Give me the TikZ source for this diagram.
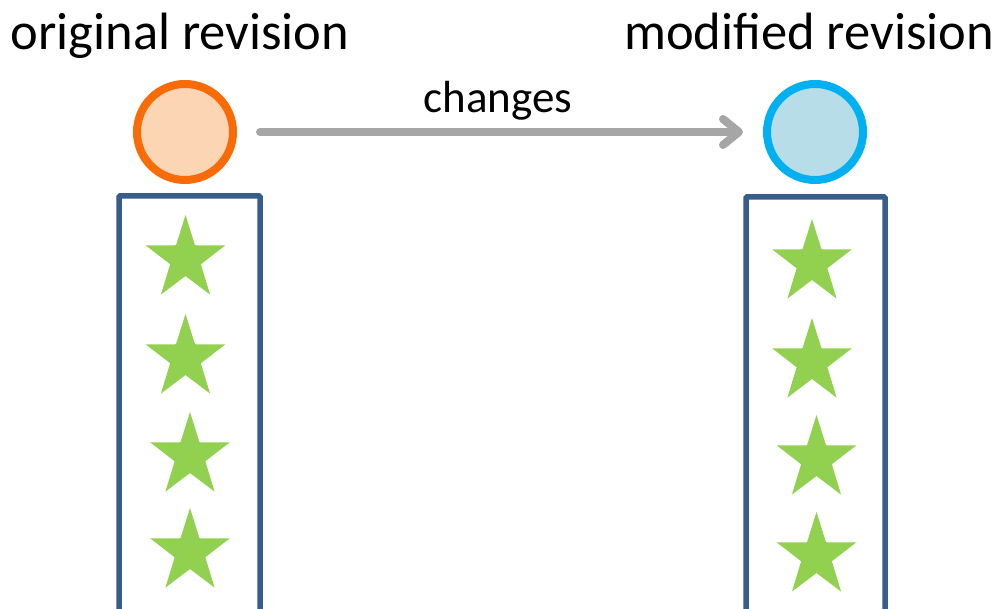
\documentclass[tikz,border=0pt]{standalone}
\usepackage{fontspec}
\setmainfont{Carlito}
\usetikzlibrary{arrows.meta}
\definecolor{origline}{HTML}{F96B07}
\definecolor{origfill}{HTML}{FCD5B5}
\definecolor{modline}{HTML}{00B0F0}
\definecolor{modfill}{HTML}{B7DDE8}
\definecolor{boxline}{HTML}{385D8A}
\definecolor{stargreen}{HTML}{92D050}
\definecolor{arrowgray}{HTML}{A6A6A6}
\begin{document}
\begin{tikzpicture}[x=1pt, y=-1pt,
  rev/.style={circle, minimum size=96pt, inner sep=0pt, line width=8pt},
  title/.style={anchor=base, font=\fontsize{52.5}{60}\selectfont, inner sep=0pt},
  lbl/.style={anchor=base, font=\fontsize{45}{52}\selectfont, inner sep=0pt},
  column/.style={draw=boxline, line width=5.5pt, rounded corners=1pt},
  flow/.style={draw=arrowgray, line width=8pt, line cap=round,
    -{Straight Barb[length=16pt, width=26pt, round]}},
  gstar/.pic={
    \fill[stargreen, xscale=0.95] (270:44) -- (306:17) -- (342:44) -- (18:17)
      -- (54:44) -- (90:17) -- (126:44) -- (162:17) -- (198:44) -- (234:17) -- cycle;
  }]
  \useasboundingbox (0,0) rectangle (999,609);
  \clip (0,0) rectangle (999,609);
  \fill[white] (0,0) rectangle (999,609);

  % headings
  \node[title] (torig) at (180,50) {original revision};
  \node[title] (tmod) at (809,50) {modified revision};

  % revisions
  \node[rev, draw=origline, fill=origfill] (orig) at (185,132) {};
  \node[rev, draw=modline, fill=modfill] (mod) at (815,132) {};

  % change arrow
  \draw[flow, shorten <=23pt, shorten >=20pt] (orig) -- (mod);
  \node[lbl] (chg) at (498,113) {changes};

  % columns of items
  \draw[column] (119,640) -- (119,196) -- (260,196) -- (260,640);
  \draw[column] (746,640) -- (746,197) -- (885,197) -- (885,640);

  \pic at (185.5,259) {gstar};
  \pic at (185.5,358) {gstar};
  \pic at (190,456) {gstar};
  \pic at (190,552) {gstar};

  \pic at (812,263) {gstar};
  \pic at (812,362) {gstar};
  \pic at (816.5,459) {gstar};
  \pic at (816.5,556) {gstar};
\end{tikzpicture}
\end{document}
